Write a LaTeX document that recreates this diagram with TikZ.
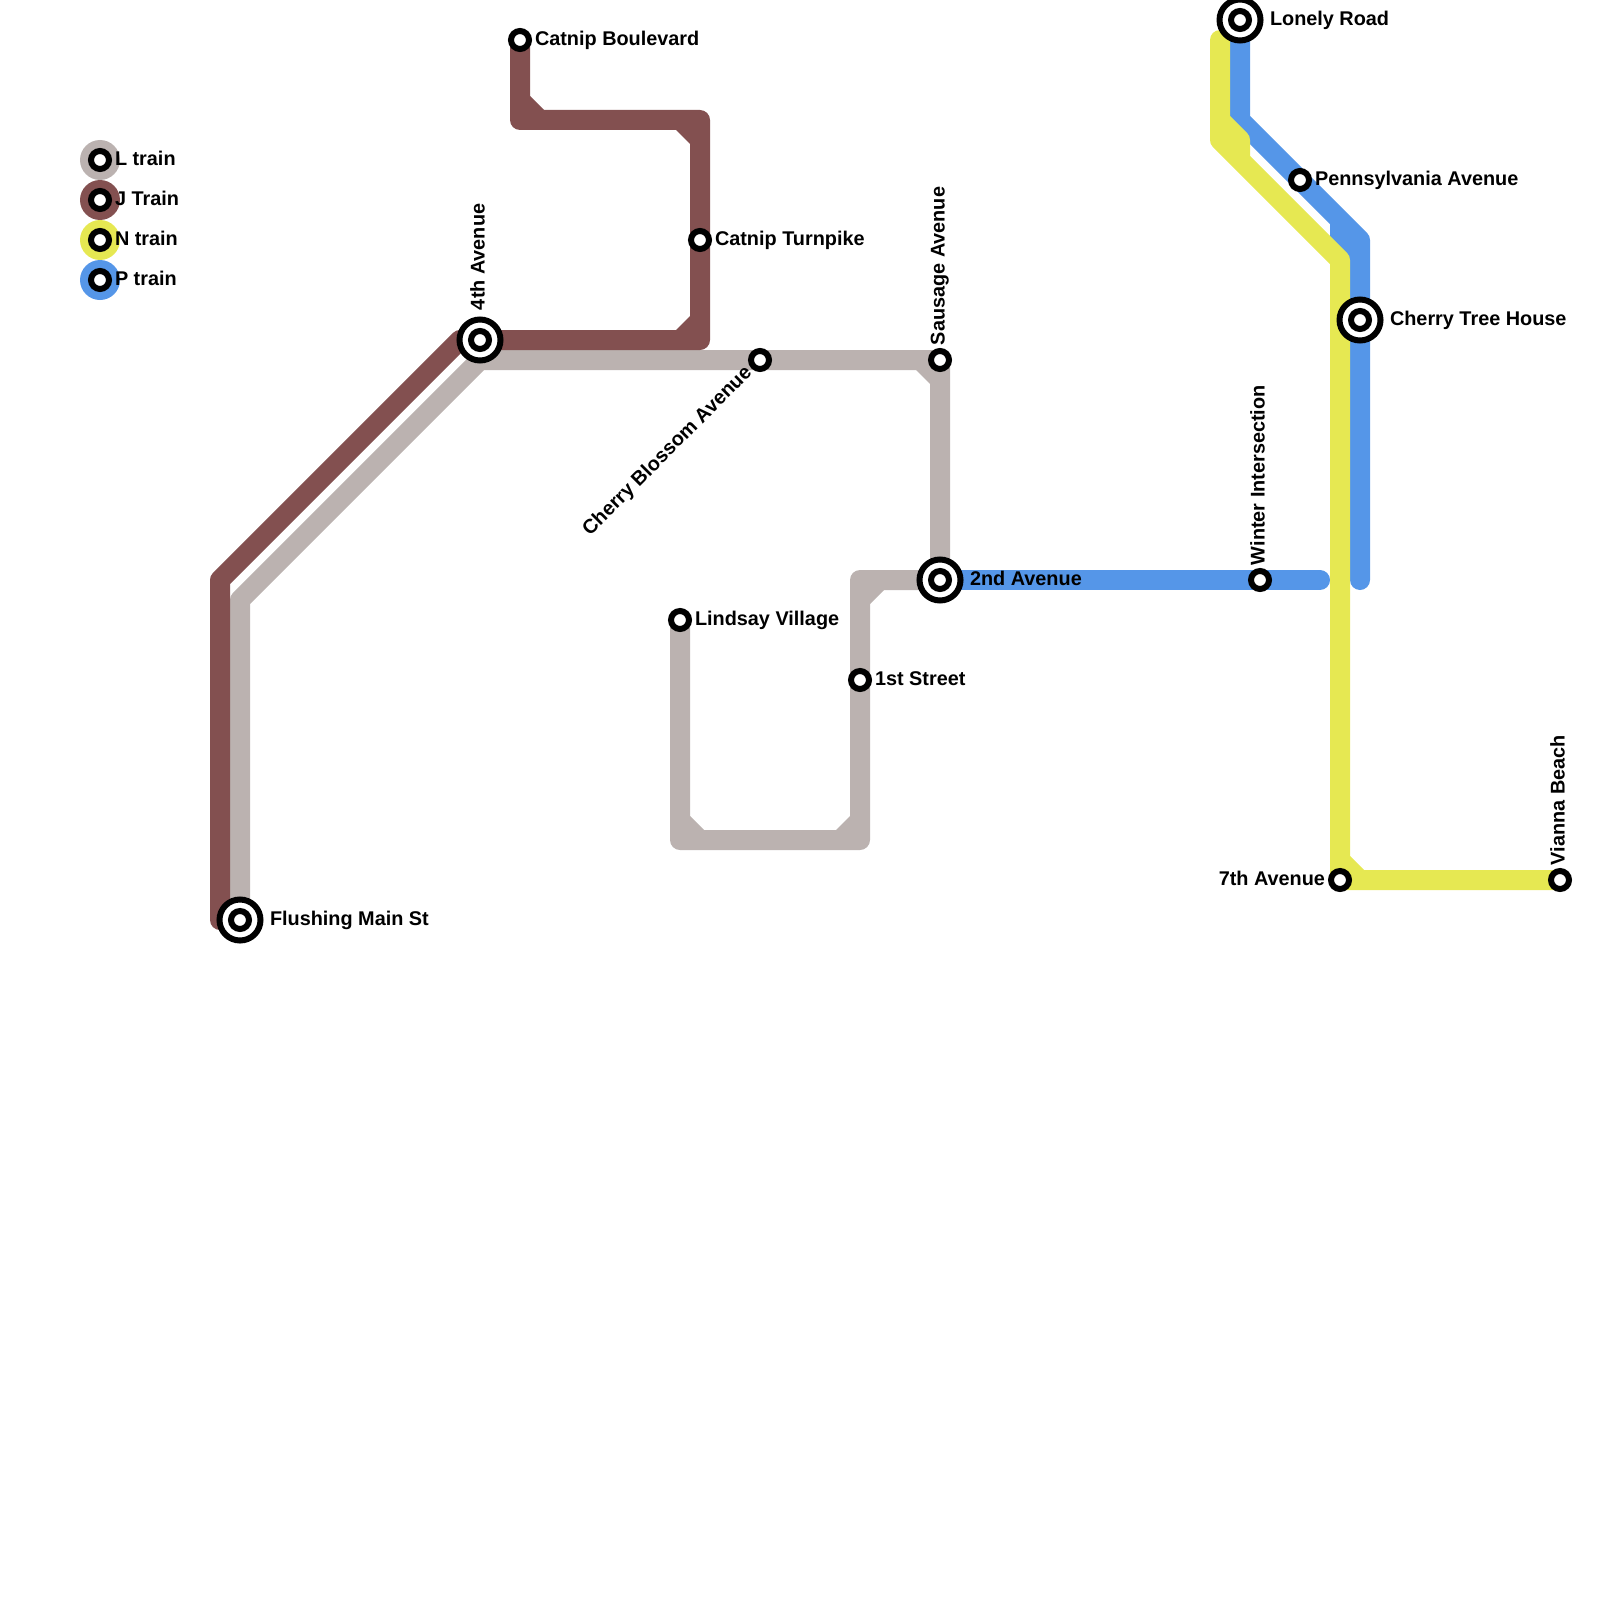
\documentclass[tikz,border=0pt]{standalone}
\usepackage{fontspec}
\setmainfont{Liberation Sans}
\definecolor{lineL}{RGB}{187,178,176}
\definecolor{lineJ}{RGB}{131,80,80}
\definecolor{lineN}{RGB}{230,232,82}
\definecolor{lineP}{RGB}{85,150,232}
\tikzset{
  rail/.style={line width=20bp,line cap=round,line join=round},
  stn/.style={circle,draw=black,fill=white,line width=6bp,minimum size=18bp,inner sep=0pt,outer sep=0pt},
  hub/.style={circle,draw=black,fill=white,line width=6bp,minimum size=41bp,inner sep=0pt,outer sep=0pt},
  key/.style={circle,fill=#1,minimum size=40bp,inner sep=0pt,outer sep=0pt},
  lab/.style={font=\fontsize{19.85bp}{24bp}\selectfont\bfseries,inner sep=0pt,outer sep=0pt,anchor=base west},
  labr/.style={lab,anchor=base east},
  labu/.style={lab,rotate=90},
}
\newcommand{\chamfer}[4]{\fill[#1,shift={(#2)},xscale=#3,yscale=#4] (0,0)--(10,24)--(24,10)--cycle;}
\begin{document}
\begin{tikzpicture}[x=1bp,y=-1bp]
\useasboundingbox (0,0) rectangle (1600,1600);
% stations and bends
\coordinate (catnipblvd) at (520,40);
\coordinate (catnipturn) at (700,240);
\coordinate (fourth) at (480,340);
\coordinate (blossom) at (760,360);
\coordinate (sausage) at (940,360);
\coordinate (second) at (940,580);
\coordinate (lindsay) at (680,620);
\coordinate (first) at (860,680);
\coordinate (flushing) at (240,920);
\coordinate (lonely) at (1240,20);
\coordinate (penn) at (1300,180);
\coordinate (cherry) at (1360,320);
\coordinate (winter) at (1260,580);
\coordinate (seventh) at (1340,880);
\coordinate (vianna) at (1560,880);
\coordinate (jA) at (220,920);
\coordinate (jB) at (220,580);
\coordinate (jC) at (460,340);
\coordinate (jD) at (700,340);
\coordinate (jE) at (700,120);
\coordinate (jF) at (520,120);
\coordinate (lA) at (240,600);
\coordinate (lB) at (480,360);
\coordinate (lC) at (860,580);
\coordinate (lD) at (860,840);
\coordinate (lE) at (680,840);
\coordinate (pA) at (1240,120);
\coordinate (pB) at (1360,240);
\coordinate (pC) at (1360,580);
\coordinate (pD) at (1320,580);
\coordinate (pE) at (1340,220);
\coordinate (pF) at (1340,260);
\coordinate (nA) at (1220,40);
\coordinate (nB) at (1220,140);
\coordinate (nC) at (1340,260);
\coordinate (nD) at (1220,120);
\coordinate (nE) at (1240,140);
\coordinate (nF) at (1240,160);
% P line
\draw[rail,lineP] (lonely) -- (pA) -- (pB) -- (pC);
\draw[rail,lineP] (second) -- (pD);
\draw[rail,lineP,line cap=butt] (pE) -- (pF);
% L line
\draw[rail,lineL] (flushing) -- (lA) -- (lB) -- (sausage) -- (second) -- (lC) -- (lD) -- (lE) -- (lindsay);
\chamfer{lineL}{sausage}{-1}{1}
\chamfer{lineL}{lC}{1}{1}
\chamfer{lineL}{lD}{-1}{-1}
\chamfer{lineL}{lE}{1}{-1}
% J line
\draw[rail,lineJ] (jA) -- (jB) -- (jC) -- (jD) -- (jE) -- (jF) -- (catnipblvd);
\chamfer{lineJ}{jD}{-1}{-1}
\chamfer{lineJ}{jE}{-1}{1}
\chamfer{lineJ}{jF}{1}{-1}
% N line
\draw[rail,lineN] (nA) -- (nB) -- (nC) -- (seventh) -- (vianna);
\draw[rail,lineN,line cap=butt] (nD) -- (nE) -- (nF);
\chamfer{lineN}{seventh}{1}{-1}
% stations
\node[stn] (sCatnipBlvd) at (catnipblvd) {};
\node[stn] (sCatnipTurn) at (catnipturn) {};
\node[stn] (sBlossom) at (blossom) {};
\node[stn] (sSausage) at (sausage) {};
\node[stn] (sLindsay) at (lindsay) {};
\node[stn] (sFirst) at (first) {};
\node[stn] (sPenn) at (penn) {};
\node[stn] (sWinter) at (winter) {};
\node[stn] (sSeventh) at (seventh) {};
\node[stn] (sVianna) at (vianna) {};
\foreach \h in {fourth,second,flushing,lonely,cherry}{
  \node[hub] (h\h) at (\h) {};
  \node[stn] (s\h) at (\h) {};
}
% labels
\node[lab] (tCatnipBlvd) at (535,45.5) {Catnip Boulevard};
\node[lab] (tCatnipTurn) at (715,245.5) {Catnip Turnpike};
\node[lab] (tLindsay) at (695,625.5) {Lindsay Village};
\node[lab] (tFirst) at (875,685.5) {1st Street};
\node[lab] (tFlushing) at (270,925.5) {Flushing Main St};
\node[lab] (tSecond) at (970,585.5) {2nd Avenue};
\node[lab] (tLonely) at (1270,25.5) {Lonely Road};
\node[lab] (tPenn) at (1315,185.5) {Pennsylvania Avenue};
\node[lab] (tCherry) at (1390,325.5) {Cherry Tree House};
\node[labr] (tSeventh) at (1325,885.5) {7th Avenue};
\node[labu] (tFourth) at (484.5,310) {4th Avenue};
\node[labu] (tSausage) at (944.5,345) {Sausage Avenue};
\node[labu] (tWinter) at (1264.5,565) {Winter Intersection};
\node[labu] (tVianna) at (1564.5,865) {Vianna Beach};
\node[labr,rotate=45] (tBlossom) at (752.6,373.8) {Cherry Blossom Avenue};
% legend
\node[key=lineL] (kL) at (100,160) {};
\node[key=lineJ] (kJ) at (100,200) {};
\node[key=lineN] (kN) at (100,240) {};
\node[key=lineP] (kP) at (100,280) {};
\node[stn] (ksL) at (kL) {};
\node[stn] (ksJ) at (kJ) {};
\node[stn] (ksN) at (kN) {};
\node[stn] (ksP) at (kP) {};
\node[lab] (tL) at (115,165.5) {L train};
\node[lab] (tJ) at (115,205.5) {J Train};
\node[lab] (tN) at (115,245.5) {N train};
\node[lab] (tP) at (115,285.5) {P train};
\end{tikzpicture}
\end{document}
